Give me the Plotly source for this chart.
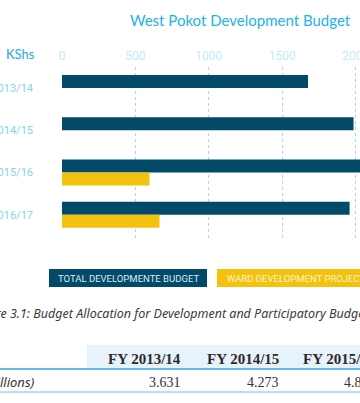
import plotly.graph_objects as go

years = ["2013/14", "2014/15", "2015/16", "2016/17"]
total_dev = [1676, 1986, 2240, 1959]
ward_dev = [None, None, 596, 664]
x_ticks = [0, 500, 1000, 1500, 2000]

table_headers = ["FY 2013/14", "FY 2014/15", "FY 2015/16"]
table_row_label = "Total Development Budget (KShs Billions)"
table_values = ["3.631", "4.273", "4.851"]

W, H = 360, 403
L, R, T, B = 62, 360, 67, 240

def px(x):
    return (x - L) / (R - L)

def py(y):
    return (B - y) / (B - T)

fig = go.Figure()
fig.add_trace(go.Bar(y=years, x=total_dev, orientation="h", name="TOTAL DEVELOPMENTE BUDGET",
                     marker=dict(color="#034a68", line=dict(width=0))))
fig.add_trace(go.Bar(y=years, x=ward_dev, orientation="h", name="WARD DEVELOPMENT PROJECTS",
                     marker=dict(color="#f2c20f", line=dict(width=0))))

fig.update_layout(
    width=W, height=H,
    margin=dict(l=L, r=W - R, t=T, b=H - B, pad=0, autoexpand=False),
    paper_bgcolor="white", plot_bgcolor="white",
    barmode="group", bargap=0.384, bargroupgap=0,
    showlegend=False,
    xaxis=dict(side="top", range=[0, 2030], tickvals=x_ticks, showgrid=True, automargin=False,
               gridcolor="#9fdcf4", griddash="dot", gridwidth=1, zeroline=False,
               showline=False, ticks="", tickfont=dict(family="Roboto", size=12, color="#c5e9f7"),
               ticklabelstandoff=4, ticklabeloverflow="allow"),
    yaxis=dict(type="category", range=[3.6, -0.5], showgrid=False, zeroline=False, automargin=False,
               showline=False, ticks="", tickfont=dict(family="Roboto", size=11, color="#86d3f1"),
               ticklabelstandoff=28),
)

ann = []
shapes = []
# title
ann.append(dict(x=px(128), y=py(20), xref="paper", yref="paper", xanchor="left", yanchor="middle",
                text="West Pokot Development Budget", showarrow=False,
                font=dict(family="Lato", size=15, color="#22b3e8")))
ann.append(dict(x=px(4), y=py(54), xref="paper", yref="paper", xanchor="left", yanchor="middle",
                text="KShs", showarrow=False,
                font=dict(family="Lato", size=13, color="#25a9e0")))
# legend boxes
shapes.append(dict(type="rect", xref="paper", yref="paper", x0=px(49), x1=px(207), y0=py(287), y1=py(269),
                   fillcolor="#034a68", line=dict(width=0)))
shapes.append(dict(type="rect", xref="paper", yref="paper", x0=px(217), x1=px(390), y0=py(287), y1=py(269),
                   fillcolor="#f2c20f", line=dict(width=0)))
ann.append(dict(x=px(128), y=py(278), xref="paper", yref="paper", xanchor="center", yanchor="middle",
                text="TOTAL DEVELOPMENTE BUDGET", showarrow=False,
                font=dict(family="Roboto", size=9.5, color="#d5edf6")))
ann.append(dict(x=px(225), y=py(278), xref="paper", yref="paper", xanchor="left", yanchor="middle",
                text="WARD DEVELOPMENT PROJECTS", showarrow=False,
                font=dict(family="Roboto", size=9.5, color="#fdf3cc")))
# caption
ann.append(dict(x=px(-30), y=py(313), xref="paper", yref="paper", xanchor="left", yanchor="middle",
                text="<i>Figure 3.1: Budget Allocation for Development and Participatory Budgeting</i>",
                showarrow=False, font=dict(family="Noto Sans", size=12.5, color="#3a3a3a")))
# table
shapes.append(dict(type="rect", xref="paper", yref="paper", x0=px(87), x1=px(400), y0=py(368), y1=py(345),
                   fillcolor="#e7f2fa", line=dict(width=0), layer="below"))
shapes.append(dict(type="line", xref="paper", yref="paper", x0=px(0), x1=px(400), y0=py(369), y1=py(369),
                   line=dict(color="#2aa6df", width=1.5)))
shapes.append(dict(type="line", xref="paper", yref="paper", x0=px(0), x1=px(400), y0=py(392), y1=py(392),
                   line=dict(color="#6cc4ec", width=1)))
col_right = [183, 281, 378]
for xr, h, v in zip(col_right, table_headers, table_values):
    ann.append(dict(x=px(xr), y=py(359), xref="paper", yref="paper", xanchor="right", yanchor="middle",
                    text="<b>" + h + "</b>", showarrow=False,
                    font=dict(family="Liberation Serif", size=15, color="#2b2b2b")))
    ann.append(dict(x=px(xr), y=py(382), xref="paper", yref="paper", xanchor="right", yanchor="middle",
                    text=v, showarrow=False,
                    font=dict(family="Liberation Serif", size=14, color="#333333")))
ann.append(dict(x=px(37), y=py(382), xref="paper", yref="paper", xanchor="right", yanchor="middle",
                text="<i>" + table_row_label + "</i>", showarrow=False,
                font=dict(family="Noto Sans", size=13, color="#333333")))

fig.update_layout(annotations=ann, shapes=shapes)
fig.write_html("out.html", config={"displayModeBar": False},
               post_script="document.body.style.margin='0';document.body.style.overflow='hidden';")
